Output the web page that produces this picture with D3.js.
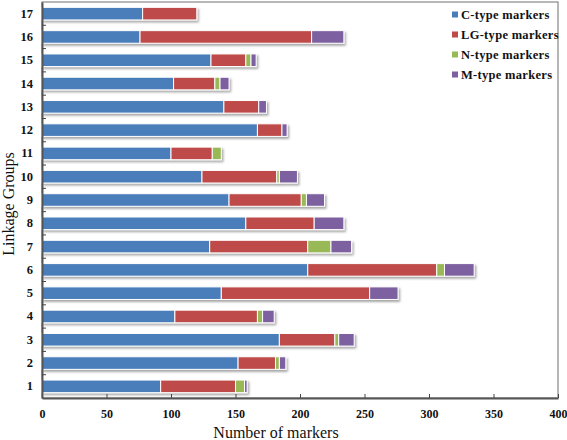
<!DOCTYPE html>
<html><head><meta charset="utf-8">
<script src="https://cdn.jsdelivr.net/npm/d3@7/dist/d3.min.js"></script>
<style>body{margin:0;background:#fff}svg{display:block}</style>
</head><body>
<svg id="c" width="567" height="440"></svg>
<script>
const groups = ["1","2","3","4","5","6","7","8","9","10","11","12","13","14","15","16","17"];
const cType  = [92,152,184,103,139,206,130,158,145,124,100,167,141,102,131,76,78];
const lgType = [58,29,43,64,115,100,76,53,56,58,32,19,27,32,27,133,42];
const nType  = [7,3,3,4,0,6,18,0,4,2,7,0,0,4,4,0,0];
const mType  = [2,5,12,9,22,23,16,23,14,14,0,4,6,7,4,25,0];
const seriesNames = ["C-type markers","LG-type markers","N-type markers","M-type markers"];
const colors = ["#4A7EBB","#BE4B48","#98B954","#7D60A0"];
const xTicks = [0,50,100,150,200,250,300,350,400];

const svg = d3.select("#c");
const m = {l:42, r:9, t:2, b:42};
const W = 567, H = 440;
const x = d3.scaleLinear().domain([0,400]).range([m.l, W-m.r]);
const y = d3.scaleBand().domain(groups).range([H-m.b, m.t]).paddingInner(0.46).paddingOuter(0.23);

const defs = svg.append("defs");
const f = defs.append("filter").attr("id","sh").attr("x","-5%").attr("y","-30%").attr("width","110%").attr("height","180%");
f.append("feDropShadow").attr("dx",1.5).attr("dy",2).attr("stdDeviation",1).attr("flood-color","#000").attr("flood-opacity",0.35);

// frame
svg.append("rect").attr("x",m.l).attr("y",m.t).attr("width",W-m.r-m.l).attr("height",H-m.b-m.t)
  .attr("fill","none").attr("stroke","#888").attr("stroke-width",1.2);

const table = groups.map((g,i)=>({g, v:[cType[i],lgType[i],nType[i],mType[i]]}));
const gBars = svg.append("g");
table.forEach(d=>{
  const row = gBars.append("g").attr("filter","url(#sh)");
  let acc = 0;
  d.v.forEach((v,k)=>{
    if(v<=0) return;
    row.append("rect").attr("x",x(acc)).attr("y",y(d.g)).attr("width",x(acc+v)-x(acc)).attr("height",y.bandwidth())
      .attr("fill",colors[k]).attr("stroke","#fff").attr("stroke-width",1);
    acc += v;
  });
});

// axes
const xAxis = d3.axisBottom(x).tickValues(xTicks).tickSizeInner(-4).tickSizeOuter(0).tickPadding(11);
const gx = svg.append("g").attr("transform",`translate(0,${H-m.b})`).call(xAxis);
gx.select(".domain").attr("stroke","#555").attr("stroke-width",2);
gx.selectAll(".tick line").attr("stroke","#444");
gx.selectAll("text").attr("font-family","Liberation Serif").attr("font-weight","bold").attr("font-size",12).attr("fill","#111");

const yAxis = d3.axisLeft(y).tickSize(0).tickPadding(9);
const gy = svg.append("g").attr("transform",`translate(${m.l},0)`).call(yAxis);
gy.select(".domain").attr("stroke","#555").attr("stroke-width",2);
gy.selectAll("text").attr("font-family","Liberation Serif").attr("font-weight","bold").attr("font-size",12.5).attr("fill","#111");
// y ticks at band boundaries
const step = y.step();
groups.slice(0,-1).forEach(g=>{
  const yy = y(g) - step*0.23;
  svg.append("line").attr("x1",m.l).attr("x2",m.l+4).attr("y1",yy).attr("y2",yy).attr("stroke","#444");
});

// axis titles
svg.append("text").attr("x",276).attr("y",438).attr("text-anchor","middle")
  .attr("font-family","Liberation Serif").attr("font-size",16).attr("fill","#111").text("Number of markers");
svg.append("text").attr("transform",`translate(14,204) rotate(-90)`).attr("text-anchor","middle")
  .attr("font-family","Liberation Serif").attr("font-size",16).attr("fill","#111").text("Linkage Groups");

// legend
const lg = svg.append("g");
seriesNames.forEach((n,i)=>{
  const yy = 15 + i*20;
  lg.append("rect").attr("x",452).attr("y",yy-3.5).attr("width",6).attr("height",6).attr("fill",colors[i]);
  lg.append("text").attr("x",461).attr("y",yy+4).attr("font-family","Liberation Serif").attr("font-weight","bold")
    .attr("font-size",12.5).attr("fill","#111").attr("letter-spacing",0.3).text(n);
});
</script>
</body></html>
